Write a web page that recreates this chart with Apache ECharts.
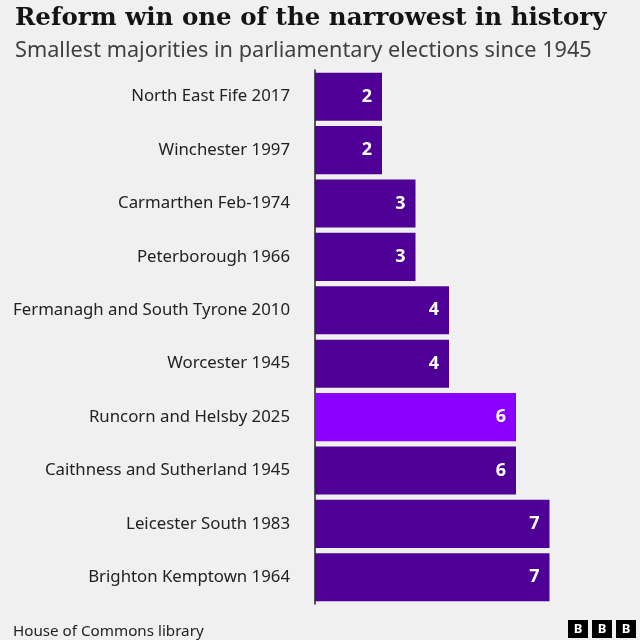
<!DOCTYPE html><html><head><meta charset="utf-8"><script src="https://cdn.jsdelivr.net/npm/echarts@6/dist/echarts.min.js"></script>
<style>body{margin:0;background:#f0f0f0}#c{width:640px;height:640px}</style></head><body><div id="c"></div><script>
const categories=["North East Fife 2017","Winchester 1997","Carmarthen Feb-1974","Peterborough 1966","Fermanagh and South Tyrone 2010","Worcester 1945","Runcorn and Helsby 2025","Caithness and Sutherland 1945","Leicester South 1983","Brighton Kemptown 1964"];
const values=[2,2,3,3,4,4,6,6,7,7];
const highlight="Runcorn and Helsby 2025";
const c=echarts.init(document.getElementById('c'));
c.setOption({backgroundColor:'#f0f0f0',animation:false,
title:[{text:'Reform win one of the narrowest in history',left:10,top:1,textStyle:{fontFamily:'DejaVu Serif',fontWeight:'bold',fontSize:24.5,color:'#141414'}},
{text:'Smallest majorities in parliamentary elections since 1945',left:10,top:35,textStyle:{fontFamily:'Noto Sans',fontWeight:'normal',fontSize:21.7,color:'#404040'}},
{text:'House of Commons library',left:8,top:619,textStyle:{fontFamily:'Noto Sans',fontWeight:'normal',fontSize:15.2,color:'#222'}}],
graphic:[0,1,2].map(i=>({type:'group',left:568+i*24,top:620,children:[{type:'rect',shape:{width:20,height:18},style:{fill:'#000'}},{type:'text',style:{text:'B',x:10,y:9,align:'center',verticalAlign:'middle',fill:'#fff',font:'bold 13px Noto Sans'}}]})),
grid:{left:315,width:301.5,top:70,height:534},
xAxis:{type:'value',min:0,max:9,show:false},
yAxis:{type:'category',inverse:true,data:categories,axisTick:{show:false},axisLine:{lineStyle:{color:'#222',width:1.5}},axisLabel:{margin:25,fontFamily:'Noto Sans',fontSize:16.8,color:'#222'}},
series:[{type:'bar',barCategoryGap:'10%',data:values.map((v,i)=>({value:v,itemStyle:{color:categories[i]===highlight?'#8a00ff':'#4f0096'}})),
label:{show:true,position:'insideRight',distance:10,color:'#fff',fontFamily:'Noto Sans',fontWeight:'bold',fontSize:18}}]});
</script></body></html>
